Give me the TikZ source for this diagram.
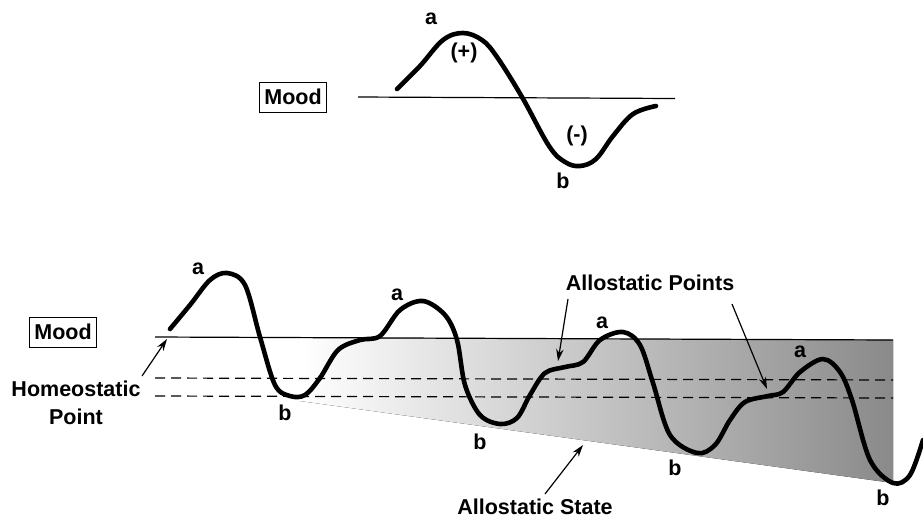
\documentclass[tikz,border=0pt]{standalone}
\usepackage{fontspec}
\setmainfont{Liberation Sans}
\usetikzlibrary{arrows.meta}
\begin{document}
\begin{tikzpicture}[x=1pt,y=-1pt,
  lbl/.style={font=\bfseries\fontsize{21.5}{27.5}\selectfont, inner sep=0pt},
  moodbox/.style={draw, line width=1pt, font=\bfseries\fontsize{21.5}{24}\selectfont, inner xsep=5pt, minimum height=30pt},
  wave/.style={line width=4.6pt, line cap=round, line join=round},
  thin/.style={line width=1.2pt},
  dashline/.style={line width=1.2pt, dash pattern=on 10pt off 6pt},
  pointer/.style={line width=1.2pt, -{Stealth[length=12pt,width=7.5pt]}}]
\useasboundingbox[fill=white] (0,0) rectangle (923,520);

% ---------- top panel ----------
\node[moodbox] (mood1) at (293,97) {Mood};
\coordinate (h1a) at (358,97);
\coordinate (h1b) at (675,98.5);
\draw[thin] (h1a) -- (h1b);
\draw[wave] plot[smooth, tension=0.6] coordinates {(397,89) (420,66) (443,40) (463,33) (482,40) (497,57) (522,97) (549,146) (565,162) (580,166) (596,159) (613,136) (633,114) (656,106)};
\node[lbl] (ta) at (431,19) {a};
\node[lbl] (tp) at (464,53) {(+)};
\node[lbl] (tm) at (577,136) {(-)};
\node[lbl] (tb) at (563,181) {b};

% ---------- bottom panel ----------
\fill[left color=white, right color=black!46] (300,338) -- (893,340) -- (893,483) -- (300,401) -- cycle;
\node[moodbox] (mood2) at (63,332) {Mood};
\coordinate (h2a) at (155,337);
\coordinate (h2b) at (893,340);
\draw[thin] (h2a) -- (h2b);
\coordinate (d1a) at (155,378);
\coordinate (d1b) at (893,380);
\coordinate (d2a) at (155,396);
\coordinate (d2b) at (893,398);
\draw[dashline] (d1a) -- (d1b);
\draw[dashline] (d2a) -- (d2b);

\draw[wave] plot[smooth, tension=0.55] coordinates {(170,329) (190,305) (210,280) (227,273) (245,285) (260,337) (275,385) (290,396) (305,395) (320,378) (338,350) (360,340) (380,336) (400,310) (423,301) (445,315) (457,340) (465,385) (480,415) (500,424) (517,418) (530,395) (545,373) (565,367) (583,362) (600,340) (623,332) (640,345) (653,383) (670,435) (697,453) (715,445) (730,420) (745,402) (768,396) (783,392) (800,372) (823,359) (840,372) (852,400) (870,460) (893,483) (910,475) (923,440)};

\node[lbl] (ba1) at (198,269) {a};
\node[lbl] (bb1) at (285,413) {b};
\node[lbl] (ba2) at (397,295) {a};
\node[lbl] (bb2) at (480,442) {b};
\node[lbl] (ba3) at (602,323) {a};
\node[lbl] (bb3) at (675,468) {b};
\node[lbl] (ba4) at (800,352) {a};
\node[lbl] (bb4) at (883,498) {b};

\node[lbl, align=center] (homeo) at (76,403) {Homeostatic\\Point};
\coordinate (homeoT) at (167,339);
\draw[pointer] (142,376) -- (homeoT);

\node[lbl] (apts) at (650,283) {Allostatic Points};
\coordinate (ap1) at (558,361);
\coordinate (ap2) at (767,389);
\draw[pointer] (568,299) -- (ap1);
\draw[pointer] (732,304) -- (ap2);

\node[lbl] (astate) at (535,507) {Allostatic State};
\coordinate (asT) at (583,445);
\draw[pointer] (545,494) -- (asT);
\end{tikzpicture}
\end{document}
